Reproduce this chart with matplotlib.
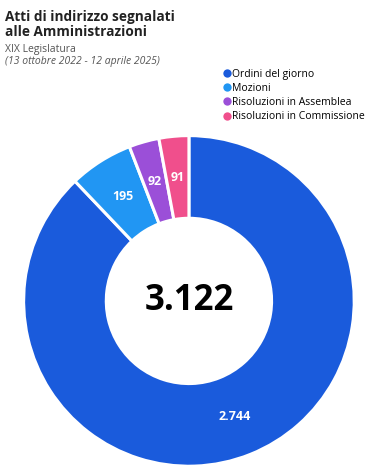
import matplotlib.pyplot as plt
from matplotlib.lines import Line2D

# data
categorie = ["Ordini del giorno", "Mozioni", "Risoluzioni in Assemblea", "Risoluzioni in Commissione"]
valori = [2744, 195, 92, 91]
colori = ["#1a5bdc", "#2196f3", "#9b4fd8", "#f04f8c"]
titolo = "Atti di indirizzo segnalati\nalle Amministrazioni"
sottotitolo = "XIX Legislatura"
periodo = "(13 ottobre 2022 - 12 aprile 2025)"

plt.rcParams['font.family'] = ['Open Sans', 'DejaVu Sans']

def fmt(n):
    return f"{n:,}".replace(",", ".")

tot = sum(valori)

fig = plt.figure(figsize=(3.79, 4.75), dpi=100)
ax = fig.add_axes([0.058, 0.015, 0.881, 0.703])

wedges, texts, autotexts = ax.pie(
    valori, colors=colori, startangle=90, counterclock=False,
    radius=1, wedgeprops=dict(width=0.5, edgecolor="white", linewidth=2.2),
    autopct=lambda p: fmt(int(round(p * tot / 100))), pctdistance=0.75,
    textprops=dict(color="white", fontsize=9, fontweight="bold"))
ax.set_xlim(-1.01, 1.01)
ax.set_ylim(-1.01, 1.01)
ax.set_aspect("equal")
ax.axis("off")

ax.text(0, 0, fmt(tot), ha="center", va="center", fontsize=25,
        fontweight="bold", color="black")

fig.text(0.013, 0.978, titolo, ha="left", va="top", fontsize=9.8,
         fontweight="bold", color="#222222", linespacing=1.05)
fig.text(0.013, 0.907, sottotitolo, ha="left", va="top", fontsize=7.5, color="#555555")
fig.text(0.013, 0.882, periodo, ha="left", va="top", fontsize=7.5,
         color="#555555", style="italic")

maniglie = [Line2D([], [], marker="o", linestyle="none", markersize=6,
                   markerfacecolor=c, markeredgecolor="none") for c in colori]
leg = fig.legend(maniglie, categorie, loc="upper left", bbox_to_anchor=(0.59, 0.855),
                 frameon=False, fontsize=7.5, handlelength=0.6,
                 handletextpad=0.2, labelspacing=0.3, borderaxespad=0, borderpad=0)

fig.savefig("out.png", dpi=100)
